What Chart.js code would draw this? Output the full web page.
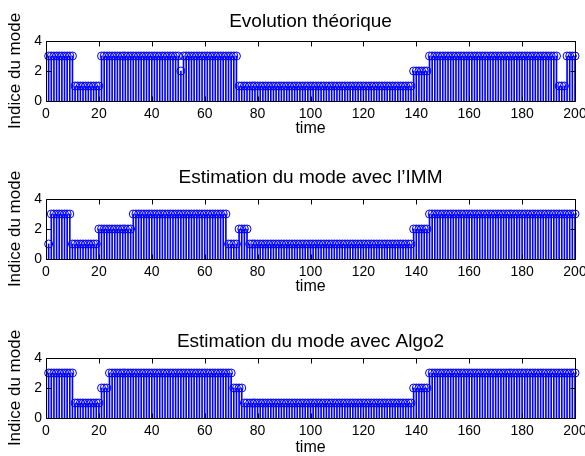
<!DOCTYPE html>
<html>
<head>
<meta charset="utf-8">
<script src="https://cdn.jsdelivr.net/npm/chart.js@4/dist/chart.umd.min.js"></script>
<style>
  html, body { margin: 0; padding: 0; background: #ffffff; }
  #wrap { position: relative; width: 585px; height: 456px; overflow: hidden; }
  #wrap canvas { position: absolute; left: 0; top: 0; }
</style>
</head>
<body>
<div id="wrap">
  <canvas id="c1" width="585" height="456"></canvas>
  <canvas id="c2" width="585" height="456"></canvas>
  <canvas id="c3" width="585" height="456"></canvas>
</div>
<script>
// ---- data ----
const titles = ["Evolution théorique", "Estimation du mode avec l\u2019IMM", "Estimation du mode avec Algo2"];
const xLabel = "time";
const yLabel = "Indice du mode";
const xTickValues = [0, 20, 40, 60, 80, 100, 120, 140, 160, 180, 200];
const yTickValues = [0, 2, 4];
const time = Array.from({ length: 200 }, (_, i) => i + 1);

const modeTheorique = [
  3,3,3,3,3,3,3,3,3,3,
  1,1,1,1,1,1,1,1,1,1,
  3,3,3,3,3,3,3,3,3,3,
  3,3,3,3,3,3,3,3,3,3,
  3,3,3,3,3,3,3,3,3,3,
  2,3,3,3,3,3,3,3,3,3,
  3,3,3,3,3,3,3,3,3,3,
  3,3,1,1,1,1,1,1,1,1,
  1,1,1,1,1,1,1,1,1,1,
  1,1,1,1,1,1,1,1,1,1,
  1,1,1,1,1,1,1,1,1,1,
  1,1,1,1,1,1,1,1,1,1,
  1,1,1,1,1,1,1,1,1,1,
  1,1,1,1,1,1,1,1,2,2,
  2,2,2,2,3,3,3,3,3,3,
  3,3,3,3,3,3,3,3,3,3,
  3,3,3,3,3,3,3,3,3,3,
  3,3,3,3,3,3,3,3,3,3,
  3,3,3,3,3,3,3,3,3,3,
  3,3,3,1,1,1,3,3,3,3
];

const modeIMM = [
  1,3,3,3,3,3,3,3,3,1,
  1,1,1,1,1,1,1,1,1,2,
  2,2,2,2,2,2,2,2,2,2,
  2,2,3,3,3,3,3,3,3,3,
  3,3,3,3,3,3,3,3,3,3,
  3,3,3,3,3,3,3,3,3,3,
  3,3,3,3,3,3,3,3,1,1,
  1,1,2,2,2,2,1,1,1,1,
  1,1,1,1,1,1,1,1,1,1,
  1,1,1,1,1,1,1,1,1,1,
  1,1,1,1,1,1,1,1,1,1,
  1,1,1,1,1,1,1,1,1,1,
  1,1,1,1,1,1,1,1,1,1,
  1,1,1,1,1,1,1,1,2,2,
  2,2,2,2,3,3,3,3,3,3,
  3,3,3,3,3,3,3,3,3,3,
  3,3,3,3,3,3,3,3,3,3,
  3,3,3,3,3,3,3,3,3,3,
  3,3,3,3,3,3,3,3,3,3,
  3,3,3,3,3,3,3,3,3,3
];

const modeAlgo2 = [
  3,3,3,3,3,3,3,3,3,3,
  1,1,1,1,1,1,1,1,1,1,
  2,2,2,3,3,3,3,3,3,3,
  3,3,3,3,3,3,3,3,3,3,
  3,3,3,3,3,3,3,3,3,3,
  3,3,3,3,3,3,3,3,3,3,
  3,3,3,3,3,3,3,3,3,3,
  2,2,2,2,1,1,1,1,1,1,
  1,1,1,1,1,1,1,1,1,1,
  1,1,1,1,1,1,1,1,1,1,
  1,1,1,1,1,1,1,1,1,1,
  1,1,1,1,1,1,1,1,1,1,
  1,1,1,1,1,1,1,1,1,1,
  1,1,1,1,1,1,1,1,2,2,
  2,2,2,2,3,3,3,3,3,3,
  3,3,3,3,3,3,3,3,3,3,
  3,3,3,3,3,3,3,3,3,3,
  3,3,3,3,3,3,3,3,3,3,
  3,3,3,3,3,3,3,3,3,3,
  3,3,3,3,3,3,3,3,3,3
];

// ---- drawing ----
const FAMILY = "'Liberation Sans', Arial, Helvetica, sans-serif";
const BLUE = "#0000ff";

const boxPlugin = {
  id: "matlabBox",
  afterDatasetsDraw(chart) {
    const { ctx, chartArea: a, scales: { x, y } } = chart;
    const L = Math.round(a.left) + 0.5, R = Math.round(a.right) + 0.5;
    const T = Math.round(a.top) + 0.5, B = Math.round(a.bottom) + 0.5;
    ctx.save();
    ctx.strokeStyle = "#000";
    ctx.lineWidth = 1;
    ctx.beginPath();
    ctx.rect(L, T, R - L, B - T);
    x.ticks.forEach(t => {
      const px = Math.round(x.getPixelForValue(t.value)) + 0.5;
      ctx.moveTo(px, B); ctx.lineTo(px, B - 5);
      ctx.moveTo(px, T); ctx.lineTo(px, T + 5);
    });
    y.ticks.forEach(t => {
      const py = Math.round(y.getPixelForValue(t.value)) + 0.5;
      ctx.moveTo(L, py); ctx.lineTo(L + 5, py);
      ctx.moveTo(R, py); ctx.lineTo(R - 5, py);
    });
    ctx.stroke();
    ctx.restore();
  }
};

function buildChart(id, titleText, values, padTop, titlePadBottom, padBottom, xHeight) {
  const pts = time.map((t, i) => ({ x: t, y: values[i] }));
  return new Chart(document.getElementById(id), {
    type: "bar",
    data: {
      datasets: [
        {
          type: "line", data: pts, showLine: false,
          pointRadius: 4, pointHoverRadius: 4, pointBorderWidth: 1,
          pointBorderColor: BLUE, pointBackgroundColor: "rgba(0,0,0,0)",
          borderColor: BLUE, clip: false, order: 0
        },
        {
          type: "bar", data: pts, backgroundColor: BLUE, borderWidth: 0,
          barThickness: 1, grouped: false, order: 1
        }
      ]
    },
    options: {
      responsive: false, animation: false, devicePixelRatio: 1,
      events: [],
      layout: { padding: { top: padTop, bottom: padBottom, left: 0, right: 10 } },
      plugins: {
        legend: { display: false },
        tooltip: { enabled: false },
        title: {
          display: true, text: titleText, fullSize: false, color: "#000",
          font: { family: FAMILY, size: 19, weight: "normal", lineHeight: 1.2 },
          padding: { top: 0, bottom: titlePadBottom }
        }
      },
      scales: {
        x: {
          type: "linear", min: 0, max: 200, offset: false,
          grid: { display: false, drawTicks: false, tickLength: 0 }, border: { display: false },
          afterBuildTicks(s) { s.ticks = xTickValues.map(v => ({ value: v })); },
          ticks: { color: "#000", font: { family: FAMILY, size: 14 }, padding: 5, maxRotation: 0, autoSkip: false },
          title: { display: true, text: xLabel, color: "#000", font: { family: FAMILY, size: 16 }, padding: 0 },
          afterFit(s) { s.height = xHeight; s.paddingLeft = 0; s.paddingRight = 0; }
        },
        y: {
          type: "linear", min: 0, max: 4,
          grid: { display: false, drawTicks: false, tickLength: 0 }, border: { display: false },
          afterBuildTicks(s) { s.ticks = yTickValues.map(v => ({ value: v })); },
          ticks: { color: "#000", font: { family: FAMILY, size: 14 }, padding: 4 },
          title: { display: true, text: yLabel, color: "#000", font: { family: FAMILY, size: 17, lineHeight: 1.2 }, padding: { top: 5, bottom: 0 } },
          afterFit(s) { s.width = 46; s.paddingTop = 0; s.paddingBottom = 0; }
        }
      }
    },
    plugins: [boxPlugin]
  });
}

buildChart("c1", titles[0], modeTheorique, 10, 8.2, 318, 37);
buildChart("c2", titles[1], modeIMM, 166, 10.2, 160, 37);
buildChart("c3", titles[2], modeAlgo2, 330.6, 4.6, -1, 39);
</script>
</body>
</html>
